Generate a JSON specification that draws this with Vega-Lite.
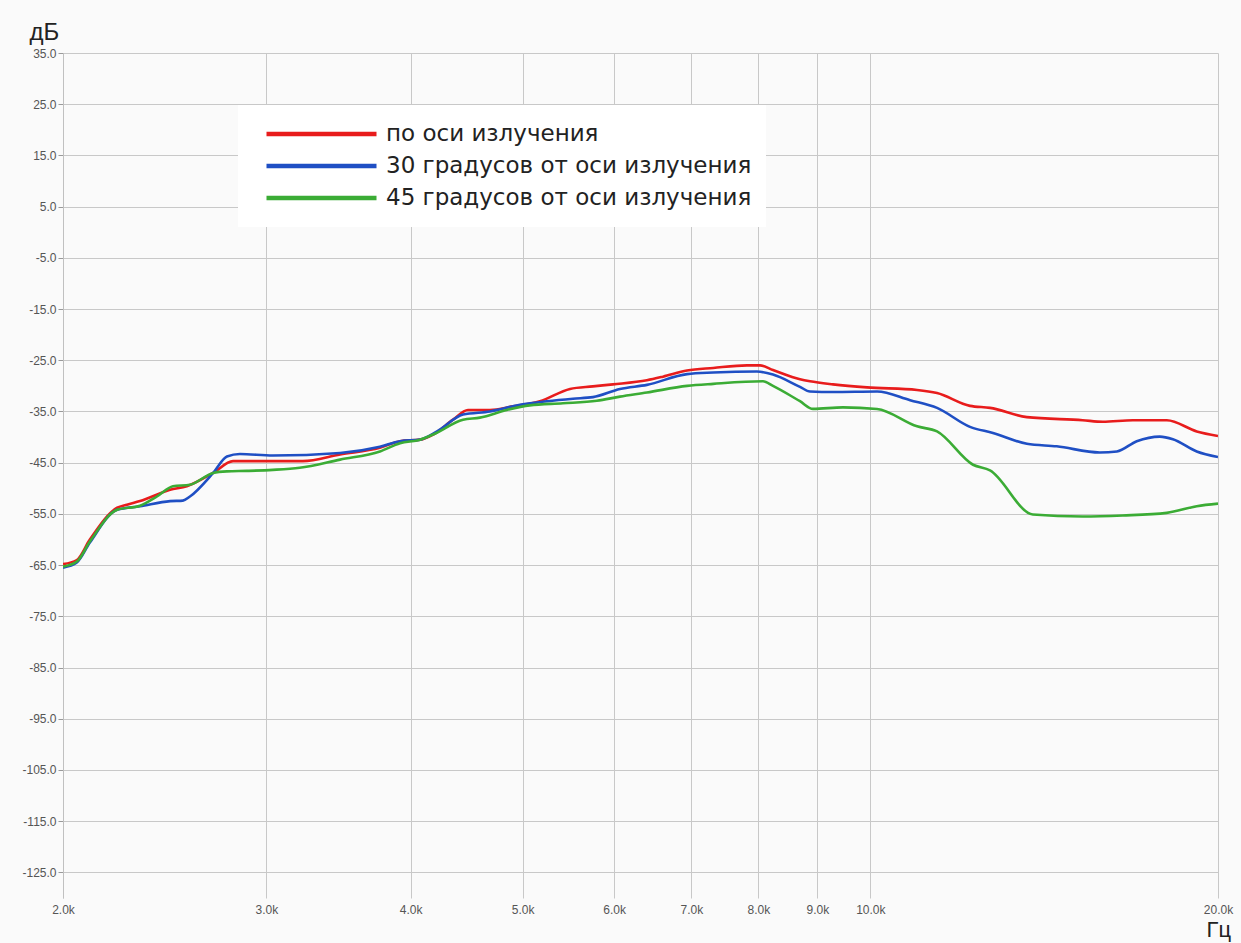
{
  "$schema": "https://vega.github.io/schema/vega-lite/v6.json",
  "autosize": {"type": "none"},
  "width": 1155,
  "height": 845,
  "padding": {"left": 63, "top": 53, "right": 23, "bottom": 45},
  "background": "#fafafa",
  "config": {
    "view": {"stroke": null},
    "font": "Liberation Sans"
  },
  "datasets": {
    "curves": [
      {"f": 2000, "db": -64.8, "s": "по оси излучения"},
      {"f": 2056, "db": -64, "s": "по оси излучения"},
      {"f": 2110, "db": -60, "s": "по оси излучения"},
      {"f": 2228, "db": -53.8, "s": "по оси излучения"},
      {"f": 2272, "db": -53.2, "s": "по оси излучения"},
      {"f": 2332, "db": -52.5, "s": "по оси излучения"},
      {"f": 2476, "db": -50.3, "s": "по оси излучения"},
      {"f": 2560, "db": -49.6, "s": "по оси излучения"},
      {"f": 2698, "db": -47, "s": "по оси излучения"},
      {"f": 2807, "db": -44.7, "s": "по оси излучения"},
      {"f": 3022, "db": -44.7, "s": "по оси излучения"},
      {"f": 3226, "db": -44.7, "s": "по оси излучения"},
      {"f": 3475, "db": -43.4, "s": "по оси излучения"},
      {"f": 3762, "db": -42.1, "s": "по оси излучения"},
      {"f": 3916, "db": -40.8, "s": "по оси излучения"},
      {"f": 4076, "db": -40.5, "s": "по оси излучения"},
      {"f": 4183, "db": -39.5, "s": "по оси излучения"},
      {"f": 4352, "db": -36.6, "s": "по оси излучения"},
      {"f": 4484, "db": -34.7, "s": "по оси излучения"},
      {"f": 4685, "db": -34.7, "s": "по оси излучения"},
      {"f": 4904, "db": -34, "s": "по оси излучения"},
      {"f": 5175, "db": -33, "s": "по оси излучения"},
      {"f": 5495, "db": -30.6, "s": "по оси излучения"},
      {"f": 5752, "db": -30.1, "s": "по оси излучения"},
      {"f": 5986, "db": -29.7, "s": "по оси излучения"},
      {"f": 6406, "db": -28.9, "s": "по оси излучения"},
      {"f": 6615, "db": -28.2, "s": "по оси излучения"},
      {"f": 6940, "db": -27, "s": "по оси излучения"},
      {"f": 7312, "db": -26.5, "s": "по оси излучения"},
      {"f": 7820, "db": -26, "s": "по оси излучения"},
      {"f": 8026, "db": -26, "s": "по оси излучения"},
      {"f": 8236, "db": -26.9, "s": "по оси излучения"},
      {"f": 8692, "db": -28.7, "s": "по оси излучения"},
      {"f": 8867, "db": -29.1, "s": "по оси излучения"},
      {"f": 9283, "db": -29.7, "s": "по оси излучения"},
      {"f": 9934, "db": -30.3, "s": "по оси излучения"},
      {"f": 10977, "db": -30.8, "s": "по оси излучения"},
      {"f": 11423, "db": -31.4, "s": "по оси излучения"},
      {"f": 12199, "db": -33.9, "s": "по оси излучения"},
      {"f": 12694, "db": -34.3, "s": "по оси излучения"},
      {"f": 13663, "db": -36.1, "s": "по оси излучения"},
      {"f": 15270, "db": -36.7, "s": "по оси излучения"},
      {"f": 15895, "db": -37, "s": "по оси излучения"},
      {"f": 16875, "db": -36.7, "s": "по оси излучения"},
      {"f": 18060, "db": -36.7, "s": "по оси излучения"},
      {"f": 19170, "db": -38.9, "s": "по оси излучения"},
      {"f": 20000, "db": -39.8, "s": "по оси излучения"},

      {"f": 2000, "db": -65.5, "s": "30 градусов от оси излучения"},
      {"f": 2056, "db": -64.5, "s": "30 градусов от оси излучения"},
      {"f": 2110, "db": -60.6, "s": "30 градусов от оси излучения"},
      {"f": 2228, "db": -54.2, "s": "30 градусов от оси излучения"},
      {"f": 2332, "db": -53.5, "s": "30 градусов от оси излучения"},
      {"f": 2476, "db": -52.5, "s": "30 градусов от оси излучения"},
      {"f": 2540, "db": -52.4, "s": "30 градусов от оси излучения"},
      {"f": 2576, "db": -51.6, "s": "30 градусов от оси излучения"},
      {"f": 2698, "db": -47, "s": "30 градусов от оси излучения"},
      {"f": 2773, "db": -43.8, "s": "30 градусов от оси излучения"},
      {"f": 2846, "db": -43.3, "s": "30 градусов от оси излучения"},
      {"f": 3039, "db": -43.6, "s": "30 градусов от оси излучения"},
      {"f": 3475, "db": -43.1, "s": "30 градусов от оси излучения"},
      {"f": 3762, "db": -41.9, "s": "30 градусов от оси излучения"},
      {"f": 3916, "db": -40.8, "s": "30 градусов от оси излучения"},
      {"f": 4076, "db": -40.5, "s": "30 градусов от оси излучения"},
      {"f": 4216, "db": -38.9, "s": "30 градусов от оси излучения"},
      {"f": 4440, "db": -35.6, "s": "30 градусов от оси излучения"},
      {"f": 4685, "db": -35, "s": "30 градусов от оси излучения"},
      {"f": 4973, "db": -33.7, "s": "30 градусов от оси излучения"},
      {"f": 5247, "db": -33, "s": "30 градусов от оси излучения"},
      {"f": 5528, "db": -32.5, "s": "30 градусов от оси излучения"},
      {"f": 5752, "db": -32.2, "s": "30 градусов от оси излучения"},
      {"f": 6071, "db": -30.6, "s": "30 градусов от оси излучения"},
      {"f": 6406, "db": -29.8, "s": "30 градусов от оси излучения"},
      {"f": 6940, "db": -27.7, "s": "30 градусов от оси излучения"},
      {"f": 7312, "db": -27.4, "s": "30 градусов от оси излучения"},
      {"f": 7978, "db": -27.2, "s": "30 градусов от оси излучения"},
      {"f": 8236, "db": -27.8, "s": "30 градусов от оси излучения"},
      {"f": 8692, "db": -30.2, "s": "30 градусов от оси излучения"},
      {"f": 8867, "db": -31.1, "s": "30 градусов от оси излучения"},
      {"f": 9283, "db": -31.2, "s": "30 градусов от оси излучения"},
      {"f": 10135, "db": -31.1, "s": "30 градусов от оси излучения"},
      {"f": 10826, "db": -32.8, "s": "30 градусов от оси излучения"},
      {"f": 11423, "db": -34.3, "s": "30 градусов от оси излучения"},
      {"f": 12199, "db": -38, "s": "30 градусов от оси излучения"},
      {"f": 12770, "db": -39.2, "s": "30 градусов от оси излучения"},
      {"f": 13663, "db": -41.3, "s": "30 градусов от оси излучения"},
      {"f": 14500, "db": -41.8, "s": "30 градусов от оси излучения"},
      {"f": 15800, "db": -43, "s": "30 градусов от оси излучения"},
      {"f": 16350, "db": -42.8, "s": "30 градусов от оси излучения"},
      {"f": 17010, "db": -40.8, "s": "30 градусов от оси излучения"},
      {"f": 17810, "db": -39.9, "s": "30 градусов от оси излучения"},
      {"f": 18280, "db": -40.4, "s": "30 градусов от оси излучения"},
      {"f": 19170, "db": -42.8, "s": "30 градусов от оси излучения"},
      {"f": 20000, "db": -43.9, "s": "30 градусов от оси излучения"},

      {"f": 2000, "db": -65.3, "s": "45 градусов от оси излучения"},
      {"f": 2056, "db": -64.3, "s": "45 градусов от оси излучения"},
      {"f": 2110, "db": -60.4, "s": "45 градусов от оси излучения"},
      {"f": 2228, "db": -54.2, "s": "45 градусов от оси излучения"},
      {"f": 2332, "db": -53.4, "s": "45 градусов от оси излучения"},
      {"f": 2412, "db": -51.6, "s": "45 градусов от оси излучения"},
      {"f": 2490, "db": -49.6, "s": "45 градусов от оси излучения"},
      {"f": 2576, "db": -49.3, "s": "45 градусов от оси излучения"},
      {"f": 2698, "db": -47, "s": "45 градусов от оси излучения"},
      {"f": 2773, "db": -46.7, "s": "45 градусов от оси излучения"},
      {"f": 2886, "db": -46.6, "s": "45 градусов от оси излучения"},
      {"f": 3039, "db": -46.4, "s": "45 градусов от оси излучения"},
      {"f": 3206, "db": -46, "s": "45 градусов от оси излучения"},
      {"f": 3475, "db": -44.4, "s": "45 градусов от оси излучения"},
      {"f": 3762, "db": -42.8, "s": "45 градусов от оси излучения"},
      {"f": 3916, "db": -41.2, "s": "45 градусов от оси излучения"},
      {"f": 4076, "db": -40.5, "s": "45 градусов от оси излучения"},
      {"f": 4183, "db": -39.5, "s": "45 градусов от оси излучения"},
      {"f": 4440, "db": -36.6, "s": "45 градусов от оси излучения"},
      {"f": 4592, "db": -36.2, "s": "45 градусов от оси излучения"},
      {"f": 4845, "db": -34.7, "s": "45 градусов от оси излучения"},
      {"f": 5072, "db": -33.8, "s": "45 градусов от оси излучения"},
      {"f": 5418, "db": -33.4, "s": "45 градусов от оси излучения"},
      {"f": 5797, "db": -32.9, "s": "45 градусов от оси излучения"},
      {"f": 6071, "db": -32.1, "s": "45 градусов от оси излучения"},
      {"f": 6406, "db": -31.3, "s": "45 градусов от оси излучения"},
      {"f": 6940, "db": -30, "s": "45 градусов от оси излучения"},
      {"f": 7312, "db": -29.6, "s": "45 градусов от оси излучения"},
      {"f": 8074, "db": -29.1, "s": "45 градусов от оси излучения"},
      {"f": 8236, "db": -30, "s": "45 градусов от оси излучения"},
      {"f": 8692, "db": -33, "s": "45 градусов от оси излучения"},
      {"f": 8920, "db": -34.5, "s": "45 градусов от оси излучения"},
      {"f": 9469, "db": -34.2, "s": "45 градусов от оси излучения"},
      {"f": 10135, "db": -34.5, "s": "45 градусов от оси излучения"},
      {"f": 10977, "db": -37.9, "s": "45 градусов от оси излучения"},
      {"f": 11423, "db": -38.9, "s": "45 градусов от оси излучения"},
      {"f": 12272, "db": -45.4, "s": "45 градусов от оси излучения"},
      {"f": 12694, "db": -46.5, "s": "45 градусов от оси излучения"},
      {"f": 13827, "db": -55.1, "s": "45 градусов от оси излучения"},
      {"f": 15270, "db": -55.5, "s": "45 градусов от оси излучения"},
      {"f": 16540, "db": -55.3, "s": "45 градусов от оси излучения"},
      {"f": 18060, "db": -54.8, "s": "45 градусов от оси излучения"},
      {"f": 19170, "db": -53.5, "s": "45 градусов от оси излучения"},
      {"f": 20000, "db": -53, "s": "45 градусов от оси излучения"}
    ]
  },
  "data": {"name": "curves"},
  "mark": {"type": "line", "interpolate": "monotone", "strokeWidth": 2.6, "clip": true},
  "encoding": {
    "x": {
      "field": "f",
      "type": "quantitative",
      "scale": {"type": "log", "domain": [2000, 20000], "nice": false},
      "axis": {
        "values": [2000, 3000, 4000, 5000, 6000, 7000, 8000, 9000, 10000, 20000],
        "labelExpr": "format(datum.value / 1000, '.1f') + 'k'",
        "grid": true,
        "gridColor": "#c8c8c8",
        "gridWidth": 1,
        "ticks": false,
        "domain": false,
        "labelPadding": 6,
        "labelFontSize": 12,
        "labelColor": "#555555",
        "labelFont": "Liberation Sans",
        "labelFlush": false,
        "labelOverlap": false,
        "title": "Гц",
        "titleFont": "Liberation Sans",
        "titleFontSize": 22,
        "titleFontWeight": "normal",
        "titleColor": "#222222",
        "titleAlign": "left",
        "titleBaseline": "alphabetic",
        "titleAnchor": null,
        "titleX": 1143,
        "titleY": 38
      }
    },
    "y": {
      "field": "db",
      "type": "quantitative",
      "scale": {"domain": [-130, 35], "nice": false, "zero": false},
      "axis": {
        "values": [35, 25, 15, 5, -5, -15, -25, -35, -45, -55, -65, -75, -85, -95, -105, -115, -125],
        "labelExpr": "replace(format(datum.value, '.1f'), '\u2212', '-')",
        "grid": true,
        "gridColor": "#c8c8c8",
        "gridWidth": 1,
        "ticks": true,
        "tickSize": 5,
        "tickColor": "#999999",
        "domain": true,
        "domainColor": "#c0c0c0",
        "domainWidth": 1,
        "labelPadding": 2,
        "labelFontSize": 12,
        "labelColor": "#555555",
        "labelFont": "Liberation Sans",
        "labelFlush": false,
        "labelOverlap": false,
        "title": "дБ",
        "titleFont": "Liberation Sans",
        "titleFontSize": 24,
        "titleFontWeight": "normal",
        "titleColor": "#222222",
        "titleAngle": 0,
        "titleAlign": "left",
        "titleBaseline": "alphabetic",
        "titleAnchor": null,
        "titleX": -34,
        "titleY": -14
      }
    },
    "color": {
      "field": "s",
      "type": "nominal",
      "scale": {
        "domain": ["по оси излучения", "30 градусов от оси излучения", "45 градусов от оси излучения"],
        "range": ["#e81c1c", "#1f4fc4", "#3bac35"]
      },
      "legend": {
        "title": null,
        "orient": "none",
        "legendX": 175,
        "legendY": 52,
        "fillColor": "#ffffff",
        "padding": 14,
        "symbolType": "stroke",
        "symbolSize": 12100,
        "symbolStrokeWidth": 4.5,
        "symbolOffset": 12,
        "clipHeight": 30,
        "rowPadding": 2,
        "labelFont": "DejaVu Sans",
        "labelFontSize": 23,
        "labelColor": "#222222",
        "labelOffset": 7,
        "labelLimit": 600
      }
    }
  }
}
